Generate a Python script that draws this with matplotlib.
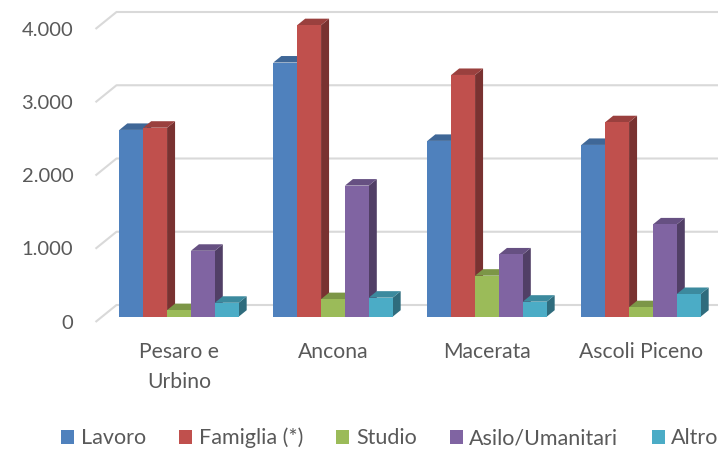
import numpy as np
import matplotlib
matplotlib.use('Agg')
import matplotlib.pyplot as plt
from matplotlib.patches import Polygon, Patch
from matplotlib.colors import to_rgb
from matplotlib.transforms import offset_copy

# data
categories = ['Pesaro e\nUrbino', 'Ancona', 'Macerata', 'Ascoli Piceno']
series = ['Lavoro', 'Famiglia (*)', 'Studio', 'Asilo/Umanitari', 'Altro']
lavoro = [2550, 3470, 2400, 2345]
famiglia = [2580, 3980, 3300, 2655]
studio = [90, 240, 560, 130]
asilo = [900, 1790, 850, 1260]
altro = [190, 260, 205, 310]
yticks = [0, 1000, 2000, 3000, 4000]
ytick_labels = ['0', '1.000', '2.000', '3.000', '4.000']

values = [lavoro, famiglia, studio, asilo, altro]
colors = ['#4F81BD', '#C0504D', '#9BBB59', '#8064A2', '#4BACC6']
text_c = '#595959'
grid_c = '#d9d9d9'

plt.rcParams['font.family'] = ['Lato', 'DejaVu Sans']

W, H, DPI = 718, 450, 100
fig = plt.figure(figsize=(W / DPI, H / DPI), dpi=DPI)
ax_l, ax_b, ax_w, ax_h = 102, 133.3, 616, 293
ax = fig.add_axes([ax_l / W, ax_b / H, ax_w / W, ax_h / H])
ax.set_xlim(-0.5, 3.5)
ax.set_ylim(0, 4000)
ax.axis('off')

# pixel offsets -> data units (fake 3d depth)
ux = ax_w / 4.0
uy = ax_h / 4000.0
def px(dx, dy):
    return dx / ux, dy / uy
bdx, bdy = px(8, 6.5)      # bar depth
kdx, kdy = px(14.5, 11.7)  # back wall
fdx, fdy = px(-6.5, -5.3)  # front edge of floor

# gridlines on the back wall + slanted bit on the side wall
for v in yticks:
    ax.plot([-0.5 + fdx, -0.5 + kdx, 3.5 + kdx], [v + fdy, v + kdy, v + kdy],
            color=grid_c, lw=1.5, clip_on=False, zorder=1, solid_capstyle='butt')

def shade(c, f):
    return tuple(np.array(to_rgb(c)) * f)

bw = 0.155
x = np.arange(len(categories))
for si, (vals, c) in enumerate(zip(values, colors)):
    x0s = x + (si - 2.5) * bw
    for x0, v in zip(x0s, vals):
        x1 = x0 + bw
        ax.add_patch(Polygon([(x1, 0), (x1 + bdx, bdy), (x1 + bdx, v + bdy), (x1, v)],
                             closed=True, fc=shade(c, 0.63), ec='none', zorder=2 + 3 * si, clip_on=False))
        ax.add_patch(Polygon([(x0, v), (x1, v), (x1 + bdx, v + bdy), (x0 + bdx, v + bdy)],
                             closed=True, fc=shade(c, 0.8), ec='none', zorder=2 + 3 * si, clip_on=False))
    ax.bar(x0s, vals, bw, align='edge', color=c, zorder=3 + 3 * si, clip_on=False)

# y labels at the front edge
tick_tr = offset_copy(ax.transData, fig=fig, x=-28.7, y=-6.5, units='dots')
for v, lab in zip(yticks, ytick_labels):
    ax.text(-0.5, v, lab, transform=tick_tr, ha='right', va='center', fontsize=14.5, color=text_c)

cat_tr = offset_copy(ax.transData, fig=fig, x=0, y=-25, units='dots')
for xi, lab in zip(x, categories):
    ax.text(xi, 0, lab, transform=cat_tr, ha='center', va='top', fontsize=15.2,
            color=text_c, linespacing=1.65)

handles = [Patch(facecolor=c, edgecolor='none', label=s) for s, c in zip(series, colors)]
fig.legend(handles=handles, loc='center', bbox_to_anchor=(390 / W, 12 / H), ncol=5,
           frameon=False, fontsize=15.5, handlelength=0.6, handleheight=0.6,
           handletextpad=0.3, columnspacing=1.55, labelcolor=text_c, borderpad=0)

fig.savefig('out.png', dpi=DPI)
